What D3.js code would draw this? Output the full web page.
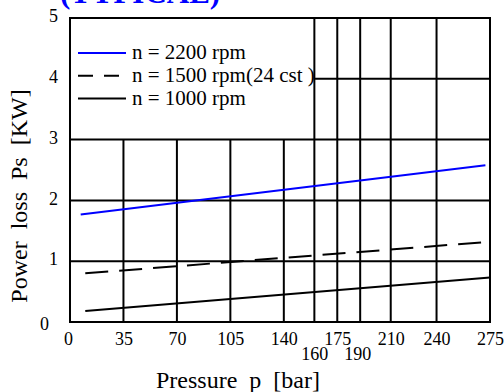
<!DOCTYPE html>
<html>
<head>
<meta charset="utf-8">
<script src="https://cdn.jsdelivr.net/npm/d3@7"></script>
<style>
  body { margin: 0; background: #fff; }
  svg { display: block; font-family: "Liberation Serif", "Times New Roman", serif; }
  text { white-space: pre; }
</style>
</head>
<body>
<div class="chart"></div>
<script>
// pressure ticks and grid
const xTicks = [0, 35, 70, 105, 140, 160, 175, 190, 210, 240, 275];
const xTicksLow = [160, 190];
const fullVerticals = [160, 175, 190, 210, 240];
const shortVerticals = [35, 70, 105, 140];   // only up to Ps = 3
const yTicks = [0, 1, 2, 3, 4, 5];
const fullHorizontals = [1, 2, 3];

// curves, [pressure bar, power loss kW]
const n2200 = [[7, 1.77], [272, 2.58]];
const n1500 = [[10, 0.80], [275, 1.32]];
const n1000 = [[10, 0.18], [275, 0.73]];

const series = [
  {label: "n = 2200 rpm", values: n2200, color: "#0000ff", dash: null},
  {label: "n = 1500 rpm(24 cst )", values: n1500, color: "#000", dash: "23,11"},
  {label: "n = 1000 rpm", values: n1000, color: "#000", dash: null},
];

const dims = {
  width: 504, height: 392,
  margin: {left: 70, right: 14, top: 18, bottom: 70}
};

const svg = d3.select('.chart').append('svg')
  .attr('width', dims.width)
  .attr('height', dims.height);

const x = d3.scaleLinear()
  .domain([0, 275])
  .range([dims.margin.left, dims.width - dims.margin.right]);

const y = d3.scaleLinear()
  .domain([0, 5])
  .range([dims.height - dims.margin.bottom, dims.margin.top]);

// title, mostly cut off at the top
svg.append('text')
  .attr('x', 60).attr('y', 3)
  .attr('fill', '#0000ff')
  .style('font-size', '31px')
  .style('font-weight', 'bold')
  .text('(TYPICAL)');

const grid = svg.append('g').attr('stroke', '#000').attr('stroke-width', 2);

grid.selectAll('.vf').data(fullVerticals).join('line')
  .attr('x1', d => x(d)).attr('x2', d => x(d))
  .attr('y1', y(0)).attr('y2', y(5));

grid.selectAll('.vs').data(shortVerticals).join('line')
  .attr('x1', d => x(d)).attr('x2', d => x(d))
  .attr('y1', y(0)).attr('y2', y(3));

grid.selectAll('.hf').data(fullHorizontals).join('line')
  .attr('x1', x(0)).attr('x2', x(275))
  .attr('y1', d => y(d)).attr('y2', d => y(d));

grid.append('line')
  .attr('x1', x(160)).attr('x2', x(275))
  .attr('y1', y(4)).attr('y2', y(4));

svg.append('rect')
  .attr('x', x(0)).attr('y', y(5))
  .attr('width', x(275) - x(0)).attr('height', y(0) - y(5))
  .attr('fill', 'none').attr('stroke', '#000').attr('stroke-width', 2);

// axes (text only, the frame draws the lines)
svg.append('g')
  .attr('transform', `translate(0,${y(0)})`)
  .call(d3.axisBottom(x).tickValues(xTicks).tickFormat(d3.format('d')).tickSize(0).tickPadding(0))
  .call(g => g.select('.domain').remove())
  .call(g => g.selectAll('.tick text')
    .attr('fill', '#000')
    .attr('dy', null)
    .attr('y', d => xTicksLow.includes(d) ? 38 : 23)
    .attr('dx', d => d === 0 ? -2 : (d === 190 ? -3 : 0))
    .style('font-size', '18px')
    .style('font-family', '"Liberation Serif", serif'));

svg.append('g')
  .attr('transform', `translate(${x(0)},0)`)
  .call(d3.axisLeft(y).tickValues(yTicks).tickFormat(d3.format('d')).tickSize(0).tickPadding(12))
  .call(g => g.select('.domain').remove())
  .call(g => g.selectAll('.tick text')
    .attr('fill', '#000')
    .attr('dy', d => d === 0 ? '0.4em' : '0.2em')
    .attr('dx', d => d === 0 ? -9 : 0)
    .style('font-size', '18px')
    .style('font-family', '"Liberation Serif", serif'));

// axis titles
svg.append('text')
  .attr('x', 238).attr('y', 388)
  .attr('text-anchor', 'middle')
  .style('font-size', '24px')
  .text('Pressure  p  [bar]');

svg.append('text')
  .attr('transform', 'translate(27,196) rotate(-90)')
  .attr('text-anchor', 'middle')
  .style('font-size', '24px')
  .text('Power  loss  Ps  [KW]');

const line = d3.line()
  .x(d => x(d[0]))
  .y(d => y(d[1]));

svg.append('g')
  .selectAll('path')
  .data(series)
  .join('path')
  .attr('d', d => line(d.values))
  .attr('fill', 'none')
  .attr('stroke', d => d.color)
  .attr('stroke-width', 2)
  .attr('stroke-dasharray', d => d.dash);

// legend
const legend = svg.append('g')
  .selectAll('g')
  .data(series)
  .join('g')
  .attr('transform', (d, i) => `translate(78,${53 + i * 22.8})`);

legend.append('line')
  .attr('x1', 0).attr('x2', 48)
  .attr('stroke', d => d.color)
  .attr('stroke-width', 2)
  .attr('stroke-dasharray', d => d.dash ? '15,11' : null);

legend.append('text')
  .attr('x', 54).attr('y', 6)
  .style('font-size', '21px')
  .text(d => d.label);
</script>
</body>
</html>
